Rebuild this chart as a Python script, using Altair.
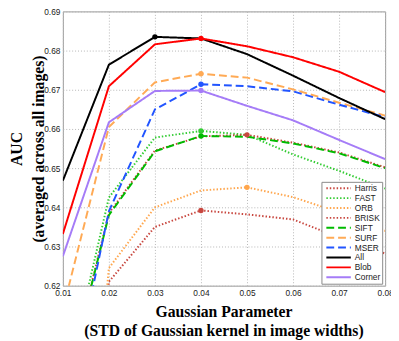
import altair as alt
import pandas as pd

x_vals = [0.01, 0.02, 0.03, 0.04, 0.05, 0.06, 0.07, 0.08]
harris = [0.500, 0.621, 0.635, 0.6392, 0.6382, 0.6369, 0.6323, 0.6282]
fast = [0.5914, 0.6425, 0.6578, 0.6595, 0.6585, 0.6535, 0.6493, 0.6448]
orb = [0.500, 0.6245, 0.640, 0.6443, 0.6451, 0.6426, 0.6387, 0.634]
brisk = [0.591, 0.6385, 0.6545, 0.6581, 0.6585, 0.6565, 0.654, 0.6502]
sift = [0.5906, 0.638, 0.6543, 0.6582, 0.658, 0.6563, 0.6538, 0.650]
surf = [0.6139, 0.6605, 0.6719, 0.6741, 0.6731, 0.6701, 0.6667, 0.6634]
mser = [0.583, 0.639, 0.665, 0.6714, 0.6709, 0.6696, 0.6662, 0.663]
all_ = [0.6468, 0.6764, 0.6835, 0.6831, 0.6791, 0.6736, 0.6679, 0.6625]
blob = [0.6332, 0.6709, 0.6816, 0.6831, 0.6811, 0.6783, 0.6746, 0.6694]
corner = [0.6275, 0.6617, 0.6697, 0.6698, 0.6659, 0.6622, 0.6572, 0.6523]
y_ticks = [0.62, 0.63, 0.64, 0.65, 0.66, 0.67, 0.68, 0.69]

names = ["Harris", "FAST", "ORB", "BRISK", "SIFT", "SURF", "MSER", "All", "Blob", "Corner"]
series = [harris, fast, orb, brisk, sift, surf, mser, all_, blob, corner]
colors = ["#c8473f", "#33cc33", "#ffa64d", "#c8473f", "#00bb00", "#ffaa55",
          "#2255ff", "#000000", "#ff0000", "#a57cf7"]
dashes = [[1.5, 2], [1.5, 2], [1.5, 2], [1.5, 2], [8, 4], [8, 4], [8, 4],
          [1, 0], [1, 0], [1, 0]]
widths = [2, 2, 2, 2, 3, 3, 3, 3, 3, 3]

rows = []
for i, (n, vals) in enumerate(zip(names, series)):
    for x, v in zip(x_vals, vals):
        rows.append({"series": n, "order": i, "x": x, "y": v})
df = pd.DataFrame(rows)
peaks = df.loc[df.groupby("series")["y"].idxmax()]

xscale = alt.Scale(domain=[0.01, 0.08], nice=False, zero=False)
yscale = alt.Scale(domain=[0.62, 0.69], nice=False, zero=False)
cscale = alt.Scale(domain=names, range=colors)
leg = alt.Legend(title=None, orient="none", legendX=264, legendY=174)

lines = alt.Chart(df).mark_line(clip=True).encode(
    x=alt.X("x:Q", scale=xscale,
            axis=alt.Axis(values=x_vals, tickCount=20, format=".2f", labelOverlap=False,
                          titleX=164, titleY=26, titleBaseline="middle",
                          title=["Gaussian Parameter",
                                 "(STD of Gaussian kernel in image widths)"])),
    y=alt.Y("y:Q", scale=yscale,
            axis=alt.Axis(values=y_ticks, tickCount=20, format=".2f", labelOverlap=False,
                          titleX=-47, titleY=140, titleBaseline="middle",
                          titleLineHeight=22,
                          title=["AUC", "(averaged across all images)"])),
    color=alt.Color("series:N", scale=cscale, legend=leg),
    strokeDash=alt.StrokeDash("series:N", scale=alt.Scale(domain=names, range=dashes),
                              legend=leg),
    strokeWidth=alt.StrokeWidth("series:N", scale=alt.Scale(domain=names, range=widths),
                                legend=leg),
    order="order:Q",
)

points = alt.Chart(peaks).mark_circle(size=30, opacity=1, clip=True).encode(
    x="x:Q",
    y="y:Q",
    color=alt.Color("series:N", scale=cscale, legend=None),
)

chart = alt.layer(lines, points).properties(
    width=329, height=280,
    autosize=alt.AutoSizeParams(type="none"),
    padding={"left": 56, "top": 0, "right": 6, "bottom": 53},
).configure_view(
    stroke="#999999", strokeWidth=1
).configure_axis(
    grid=True, gridColor="#b5b5b5", gridDash=[1, 2], gridWidth=1,
    domain=False, ticks=False, labelOverlap=False, labelFlush=False,
    labelFont="Liberation Sans", labelFontSize=8.5, labelColor="#222222", labelPadding=3,
    titleFont="Liberation Serif", titleFontSize=16, titleFontWeight="bold",
    titleColor="#000000", titleLineHeight=20,
).configure_legend(
    symbolType="stroke", symbolSize=625, labelFont="Liberation Sans",
    labelFontSize=8.5, labelColor="#222222", fillColor="#ffffff",
    strokeColor="#888888", padding=2, rowPadding=1.1, clipHeight=9,
    labelOffset=3, symbolOffset=2,
)

chart.save("out.html", embed_options={"renderer": "svg", "actions": False})
